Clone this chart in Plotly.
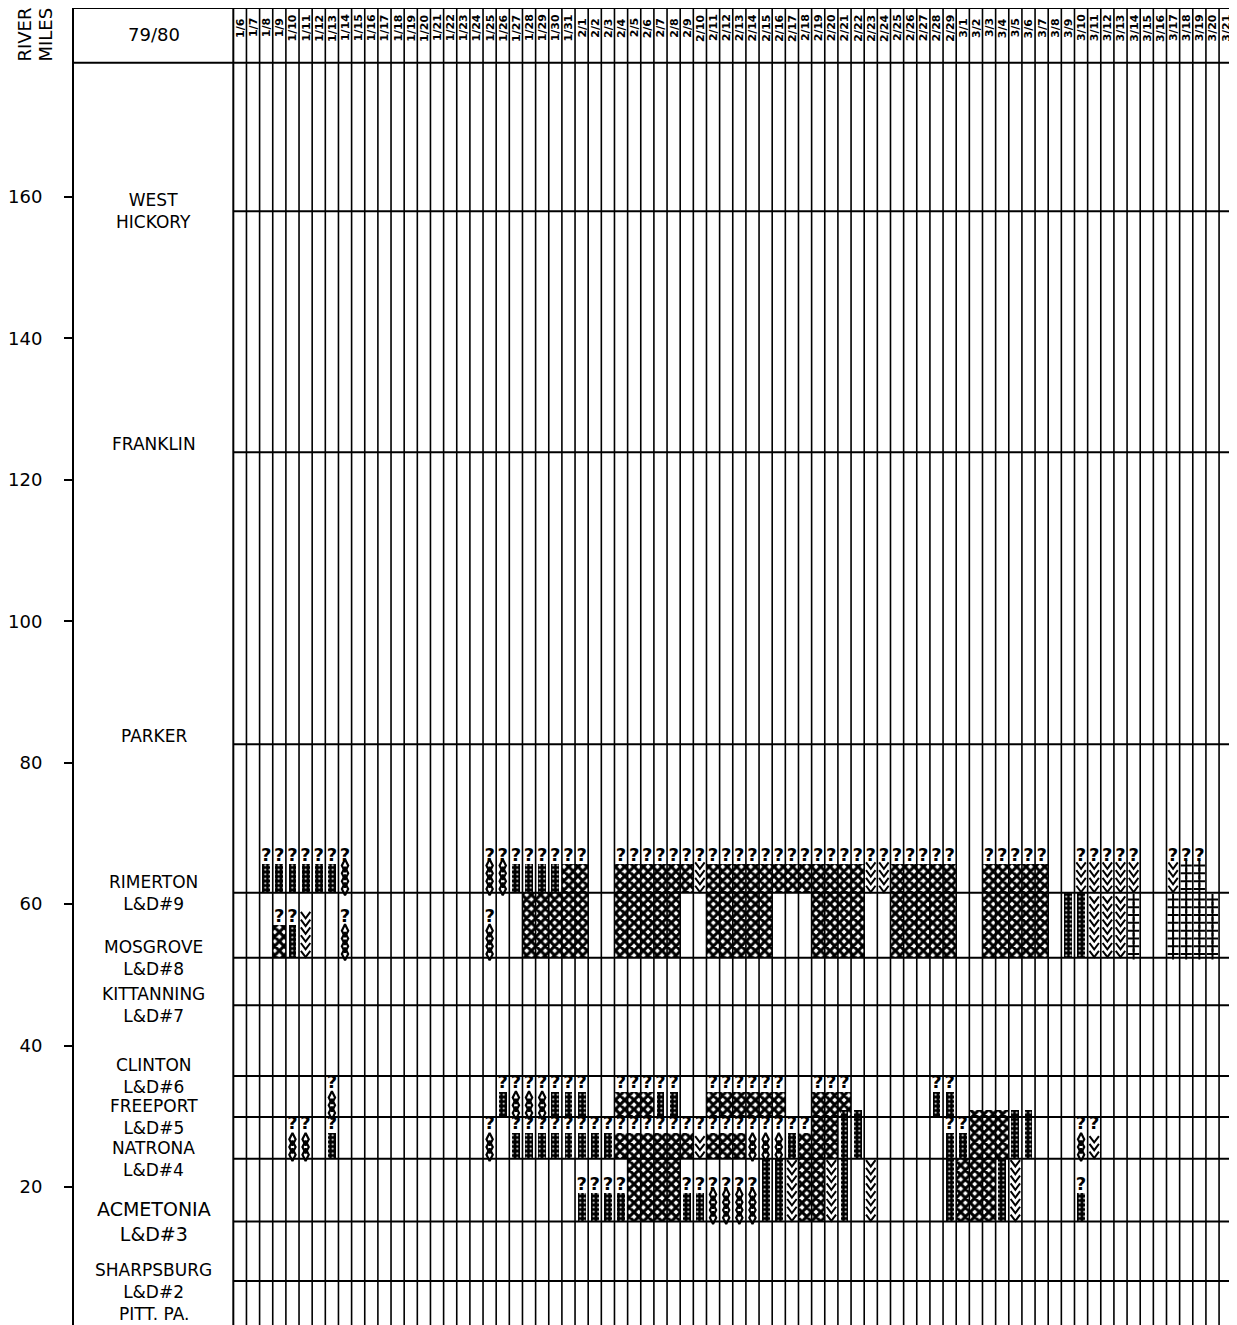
import plotly.graph_objects as go

# ---------------- data ----------------
season = "79/80"
month_spans = [(1, 6, 31), (2, 1, 29), (3, 1, 22)]
dates = [f"{m}/{d}" for m, a, b in month_spans for d in range(a, b + 1)]

station_top = ["WEST", "FRANKLIN", "PARKER", "RIMERTON", "MOSGROVE", "KITTANNING",
               "CLINTON", "FREEPORT", "NATRONA", "ACMETONIA", "SHARPSBURG"]
station_sub = ["HICKORY", "", "", "L&D#9", "L&D#8", "L&D#7",
               "L&D#6", "L&D#5", "L&D#4", "L&D#3", "L&D#2"]
station_mile = [158.0, 123.9, 82.6, 61.6, 52.4, 45.7, 35.7, 29.9, 24.0, 15.1, 6.7]
mouth_label = "PITT. PA."
mouth_mile = 2.1
mile_ticks = [20, 40, 60, 80, 100, 120, 140, 160]

# pool geometry (river miles): bottom dam, full top, partial top, raised top
pool_bottom = {"9": 61.6, "8": 52.4, "5": 29.9, "4": 24.0, "3": 15.1}
pool_top = {"9": 67.9, "8": 61.6, "5": 35.7, "4": 29.9, "3": 24.0}
pool_partial = {"8": 59.2, "3": 21.3}
pool_raised = {"4": 30.9}

# ice runs: (first column, last column, ice type, questionable, extent)
pool9_runs = [(2, 7, "B", 1, "F"), (8, 8, "C", 1, "F"), (19, 20, "C", 1, "F"),
              (21, 24, "B", 1, "F"), (25, 26, "X", 1, "F"), (29, 34, "X", 1, "F"),
              (35, 35, "V", 1, "F"), (36, 47, "X", 1, "F"), (48, 49, "V", 1, "F"),
              (50, 54, "X", 1, "F"), (57, 61, "X", 1, "F"), (64, 68, "V", 1, "F"),
              (71, 71, "V", 1, "F"), (72, 73, "+", 1, "F")]
pool8_runs = [(3, 3, "X", 1, "P"), (4, 4, "B", 1, "P"), (5, 5, "V", 0, "P"),
              (8, 8, "C", 1, "P"), (19, 19, "C", 1, "P"), (22, 26, "X", 0, "F"),
              (29, 33, "X", 0, "F"), (36, 40, "X", 0, "F"), (44, 47, "X", 0, "F"),
              (50, 54, "X", 0, "F"), (57, 61, "X", 0, "F"), (63, 64, "B", 0, "F"),
              (65, 67, "V", 0, "F"), (68, 68, "+", 0, "F"), (71, 74, "+", 0, "F")]
pool5_runs = [(7, 7, "C", 1, "F"), (20, 20, "B", 1, "F"), (21, 23, "C", 1, "F"),
              (24, 26, "B", 1, "F"), (29, 31, "X", 1, "F"), (32, 33, "B", 1, "F"),
              (36, 41, "X", 1, "F"), (44, 46, "X", 1, "F"), (53, 54, "B", 1, "F")]
pool4_runs = [(4, 5, "C", 1, "F"), (7, 7, "B", 1, "F"), (19, 19, "C", 1, "F"),
              (21, 28, "B", 1, "F"), (29, 34, "X", 1, "F"), (35, 35, "V", 1, "F"),
              (36, 38, "X", 1, "F"), (39, 41, "C", 1, "F"), (42, 42, "B", 1, "F"),
              (43, 43, "X", 1, "F"), (44, 45, "X", 0, "R"), (46, 47, "B", 0, "R"),
              (54, 55, "B", 1, "F"), (56, 58, "X", 0, "R"), (59, 60, "B", 0, "R"),
              (64, 64, "C", 1, "F"), (65, 65, "V", 1, "F")]
pool3_runs = [(26, 29, "B", 1, "P"), (30, 33, "X", 0, "F"), (34, 35, "B", 1, "P"),
              (36, 39, "C", 1, "P"), (40, 41, "B", 0, "F"), (42, 42, "V", 0, "F"),
              (43, 44, "X", 0, "F"), (45, 45, "V", 0, "F"), (46, 46, "B", 0, "F"),
              (48, 48, "V", 0, "F"), (54, 54, "B", 0, "F"), (55, 57, "X", 0, "F"),
              (58, 58, "B", 0, "F"), (59, 59, "V", 0, "F"), (64, 64, "B", 1, "P")]
pool_runs = {"9": pool9_runs, "8": pool8_runs, "5": pool5_runs, "4": pool4_runs, "3": pool3_runs}

# ---------------- layout constants ----------------
NCOL = len(dates)
X0, X1 = -12.121, 76.364          # label column + date columns
Y0, Y1 = 0.48, 186.73
HEADER_MILE = 179.0
DATE_MILE = 183.9
LABEL_X = -6.06
QZONE = 2.2
STEP = 1.1
FONT = "DejaVu Sans"

# ---------------- build cells ----------------
cells = {"X": ([], [], []), "B": ([], [], []), "C": ([], [], []), "V": ([], [], []), "+": ([], [], [])}
qx, qy = [], []
for pool, runs in pool_runs.items():
    bot = pool_bottom[pool]
    for c0, c1, kind, q, ext in runs:
        top = {"F": pool_top[pool], "P": pool_partial.get(pool), "R": pool_raised.get(pool)}[ext]
        ptop = top - QZONE if q else top
        for c in range(c0, c1 + 1):
            xs, bs, hs = cells[kind]
            xs.append(c + 0.5)
            bs.append(bot)
            hs.append(ptop - bot)
            if q:
                qx.append(c + 0.5)
                qy.append(top - QZONE / 2)

fig = go.Figure()

# crosshatch (solid ice)
xs, bs, hs = cells["X"]
fig.add_trace(go.Bar(x=xs, y=hs, base=bs, width=1.0,
                     marker=dict(color="black", line=dict(width=0),
                                 pattern=dict(shape="x", size=6.6, solidity=0.72,
                                              fgcolor="black", bgcolor="white",
                                              fillmode="replace")),
                     hoverinfo="skip"))
# heavy bars
xs, bs, hs = cells["B"]
fig.add_trace(go.Bar(x=xs, y=hs, base=bs, width=0.6,
                     marker=dict(color="black", line=dict(width=0),
                                 pattern=dict(shape=".", size=4.5, solidity=0.15,
                                              fgcolor="white", bgcolor="black",
                                              fillmode="replace")),
                     hoverinfo="skip"))


def stacked(kind):
    px_, py_ = [], []
    for x, b, h in zip(*cells[kind]):
        y = b + STEP / 2
        while y < b + h:
            px_.append(x)
            py_.append(y)
            y += STEP
    return px_, py_


cx, cy = stacked("C")
fig.add_trace(go.Scatter(x=cx, y=cy, mode="markers", hoverinfo="skip",
                         marker=dict(symbol="diamond-tall-open", size=9, color="black",
                                     line=dict(width=2.2, color="black"))))

# chevrons drawn as small polylines
vx, vy = stacked("V")
chev_x, chev_y = [], []
for x, y in zip(vx, vy):
    chev_x += [x - 0.36, x, x + 0.36, None]
    chev_y += [y + 0.45, y - 0.45, y + 0.45, None]
fig.add_trace(go.Scatter(x=chev_x, y=chev_y, mode="lines", hoverinfo="skip",
                         line=dict(color="black", width=2)))

px_, py_ = stacked("+")
fig.add_trace(go.Scatter(x=px_, y=py_, mode="markers", hoverinfo="skip",
                         marker=dict(symbol="cross-thin-open", size=8, color="black",
                                     line=dict(width=2, color="black"))))
fig.add_trace(go.Scatter(x=qx, y=qy, mode="text", text=["?"] * len(qx), hoverinfo="skip",
                         textfont=dict(family=FONT, size=18, color="black", weight="bold")))

# ---------------- grid lines ----------------
shapes = []
for k in range(NCOL + 1):
    shapes.append(dict(type="line", xref="x", yref="paper", x0=k, x1=k, y0=0, y1=1,
                       line=dict(color="black", width=2 if k == 0 else 1.6)))
for m in station_mile:
    shapes.append(dict(type="line", xref="x", yref="y", x0=0, x1=X1, y0=m, y1=m,
                       line=dict(color="black", width=2)))
shapes.append(dict(type="line", xref="x", yref="y", x0=X0, x1=X1, y0=HEADER_MILE, y1=HEADER_MILE,
                   line=dict(color="black", width=2)))
shapes.append(dict(type="line", xref="paper", yref="paper", x0=0, x1=1, y0=1, y1=1,
                   line=dict(color="black", width=2)))

# ---------------- text ----------------
ann = []
for k, d in enumerate(dates):
    ann.append(dict(x=k + 0.5, y=DATE_MILE, xref="x", yref="y", text=d, showarrow=False,
                    textangle=-90, font=dict(family=FONT, size=11, color="black", weight="bold")))
ann.append(dict(x=LABEL_X, y=183.05, xref="x", yref="y", text=season, showarrow=False,
                font=dict(family=FONT, size=18, color="black")))
for name, sub, m in zip(station_top, station_sub, station_mile):
    big = name == "ACMETONIA"
    if sub:
        size = 19 if big else 17
        ann.append(dict(x=LABEL_X, y=m, xref="x", yref="y", text=f"{name}<br>{sub}",
                        showarrow=False, font=dict(family=FONT, size=size, color="black")))
    else:
        ann.append(dict(x=LABEL_X, y=m + 1.2, xref="x", yref="y", text=name,
                        showarrow=False, font=dict(family=FONT, size=17, color="black")))
ann.append(dict(x=LABEL_X, y=mouth_mile, xref="x", yref="y", text=mouth_label, showarrow=False,
                font=dict(family=FONT, size=17, color="black")))
for word, xp in [("RIVER", -0.0428), ("MILES", -0.0248)]:
    ann.append(dict(x=xp, y=183.0, xref="paper", yref="y", text=word, showarrow=False,
                    xanchor="center", yanchor="middle",
                    textangle=-90, font=dict(family=FONT, size=18, color="black")))

fig.update_layout(
    width=1229, height=1317,
    margin=dict(l=61, r=0, t=0, b=0),
    plot_bgcolor="white", paper_bgcolor="white",
    showlegend=False, barmode="overlay", bargap=0,
    shapes=shapes, annotations=ann,
    xaxis=dict(range=[X0, X1], visible=False, fixedrange=True),
    yaxis=dict(range=[Y0, Y1], tickvals=mile_ticks, ticks="outside", ticklen=8, tickwidth=2,
               tickcolor="black", showline=True, linecolor="black", linewidth=2,
               showgrid=False, zeroline=False, ticklabelstandoff=18,
               tickfont=dict(family=FONT, size=18, color="black")),
)

fig.write_html("out.html")
